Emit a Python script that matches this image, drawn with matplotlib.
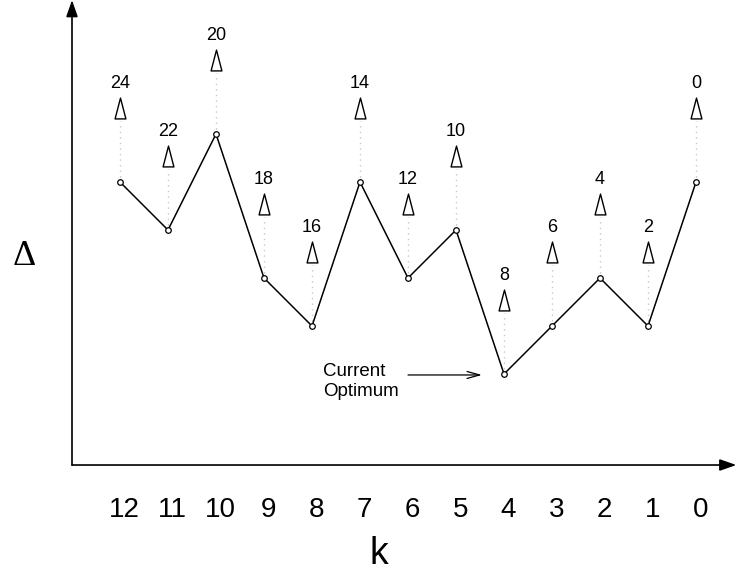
import matplotlib
matplotlib.use("Agg")
import matplotlib.pyplot as plt
from matplotlib.path import Path

plt.rcParams["font.family"] = ["Liberation Sans", "DejaVu Sans"]

# k values (plotted right to left) and the cost curve Delta(k)
k_vals = [12, 11, 10, 9, 8, 7, 6, 5, 4, 3, 2, 1, 0]
delta = [4, 3, 5, 2, 1, 4, 2, 3, 0, 1, 2, 1, 4]
marker_labels = ["24", "22", "20", "18", "16", "14", "12", "10", "8", "6", "4", "2", "0"]
tick_labels = [str(k) for k in k_vals]
optimum_k = 4

fig = plt.figure(figsize=(7.36, 5.71), dpi=100)
ax = fig.add_axes([0, 0, 1, 1])
ax.set_xlim(14.5, -0.8333)
ax.set_ylim(-4.104, 7.792)
ax.axis("off")

# axes with arrow heads
x_axis_y = -1.896
y_axis_x = 13.0
ax.annotate("", xy=(-0.84, x_axis_y), xytext=(y_axis_x, x_axis_y),
            arrowprops=dict(arrowstyle="-|>,head_length=1.0,head_width=0.35",
                            color="black", lw=1.2, shrinkA=0, shrinkB=0))
ax.annotate("", xy=(y_axis_x, 7.79), xytext=(y_axis_x, x_axis_y),
            arrowprops=dict(arrowstyle="-|>,head_length=1.0,head_width=0.35",
                            color="black", lw=1.2, shrinkA=0, shrinkB=0))

# dotted guides from points up to the triangles
for k, d in zip(k_vals, delta):
    ax.plot([k, k], [d + 0.1, d + 1.28], color="#c8c8c8", lw=1,
            linestyle=(0, (1, 3)), zorder=1)

# main curve
ax.plot(k_vals, delta, color="black", lw=1.1, marker="o", markersize=4,
        markerfacecolor="white", markeredgecolor="black", markeredgewidth=0.9,
        zorder=3)

# thin triangles with labels
tri = Path([(-0.26, -0.5), (0.26, -0.5), (0.0, 0.5), (-0.26, -0.5)],
           [Path.MOVETO, Path.LINETO, Path.LINETO, Path.CLOSEPOLY])
ax.plot(k_vals, [d + 1.55 for d in delta], linestyle="none", marker=tri,
        markersize=15, markerfacecolor="white", markeredgecolor="black",
        markeredgewidth=1, zorder=3)
for k, d, lab in zip(k_vals, delta, marker_labels):
    ax.text(k, d + 2.05, lab, ha="center", va="center", fontsize=13)

# tick labels and axis labels
for k, lab in zip(k_vals, tick_labels):
    ax.text(k - 0.09, -2.83, lab, ha="center", va="center", fontsize=20)
ax.text(6.6, -3.76, "k", ha="center", va="center", fontsize=27)
ax.text(14.0, 2.45, "\u0394", ha="center", va="center", fontsize=26,
        family=["Liberation Serif", "DejaVu Serif"])

# current optimum annotation
ax.text(7.77, -0.15, "Current\nOptimum", ha="left", va="center",
        fontsize=13.5, linespacing=1.25)
ax.annotate("", xy=(optimum_k + 0.46, -0.02), xytext=(6.0, -0.02),
            arrowprops=dict(arrowstyle="->,head_length=0.9,head_width=0.25",
                            color="black", lw=0.9, shrinkA=0, shrinkB=0))

fig.savefig("out.png", dpi=100)
